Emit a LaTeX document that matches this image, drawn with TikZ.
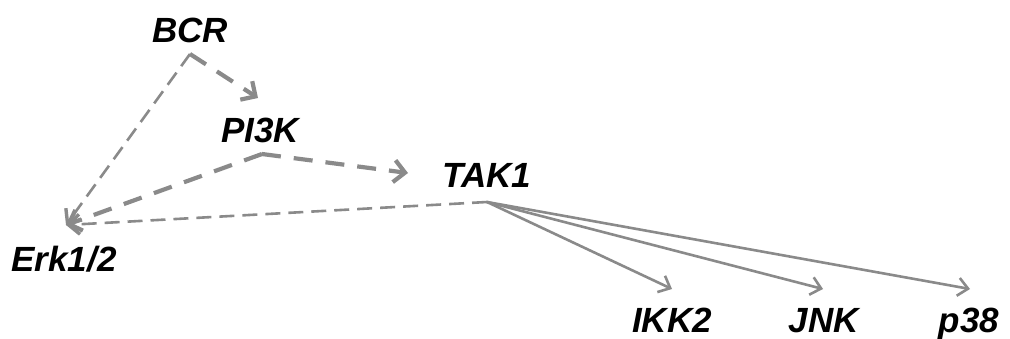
\documentclass[tikz,border=0pt]{standalone}
\usepackage{fontspec}
\setmainfont{Liberation Sans}
\usetikzlibrary{arrows.meta}
\definecolor{edgegray}{HTML}{8A8A8A}
\tikzset{
  lbl/.style={anchor=base, inner sep=0pt, font=\fontsize{35}{40}\selectfont\bfseries\itshape, text=black},
  thickdash/.style={draw=edgegray, line width=4.2pt, dash pattern=on 19pt off 13pt},
  thindash/.style={draw=edgegray, line width=2.6pt, dash pattern=on 15pt off 8pt},
  solidedge/.style={draw=edgegray, line width=2.6pt},
  bigtip/.style={-{Straight Barb[length=11pt,width=22pt,line width=4.2pt]}},
  midtip/.style={-{Straight Barb[length=11pt,width=20pt,line width=3.4pt]}},
  smalltip/.style={-{Straight Barb[length=10pt,width=18pt,line width=2.6pt]}}
}
\begin{document}
\begin{tikzpicture}[x=1pt,y=-1pt]
\useasboundingbox (0,0) rectangle (1010,338);
% labels
\node[lbl] (bcr)  at (190,42)  {BCR};
\node[lbl] (pi3k) at (260,142) {PI3K};
\node[lbl] (tak1) at (487,187) {TAK1};
\node[lbl] (erk)  at (64,271)  {Erk1/2};
\node[lbl] (ikk2) at (672,332) {IKK2};
\node[lbl] (jnk)  at (824,332) {JNK};
\node[lbl] (p38)  at (969,332) {p38};
% connector points
\coordinate (bcrO)   at (190,54);
\coordinate (pi3kO)  at (262,154);
\coordinate (tak1O)  at (487,202);
\coordinate (pi3kIn) at (258,98);
\coordinate (tak1In) at (408,173);
\coordinate (erkIn)  at (66,225);
\coordinate (ikk2In) at (672,289);
\coordinate (jnkIn)  at (823,289);
\coordinate (p38In)  at (970,289);
% dashed connectors
\draw[thickdash, bigtip] (bcrO) -- (pi3kIn);
\draw[thickdash, bigtip] (pi3kO) -- (tak1In);
\draw[thindash, midtip] (bcrO) -- (erkIn);
\draw[thickdash, bigtip] (pi3kO) -- (erkIn);
\draw[thindash, midtip] (tak1O) -- (erkIn);
% solid connectors
\draw[solidedge, smalltip] (tak1O) -- (ikk2In);
\draw[solidedge, smalltip] (tak1O) -- (jnkIn);
\draw[solidedge, smalltip] (tak1O) -- (p38In);
\end{tikzpicture}
\end{document}
